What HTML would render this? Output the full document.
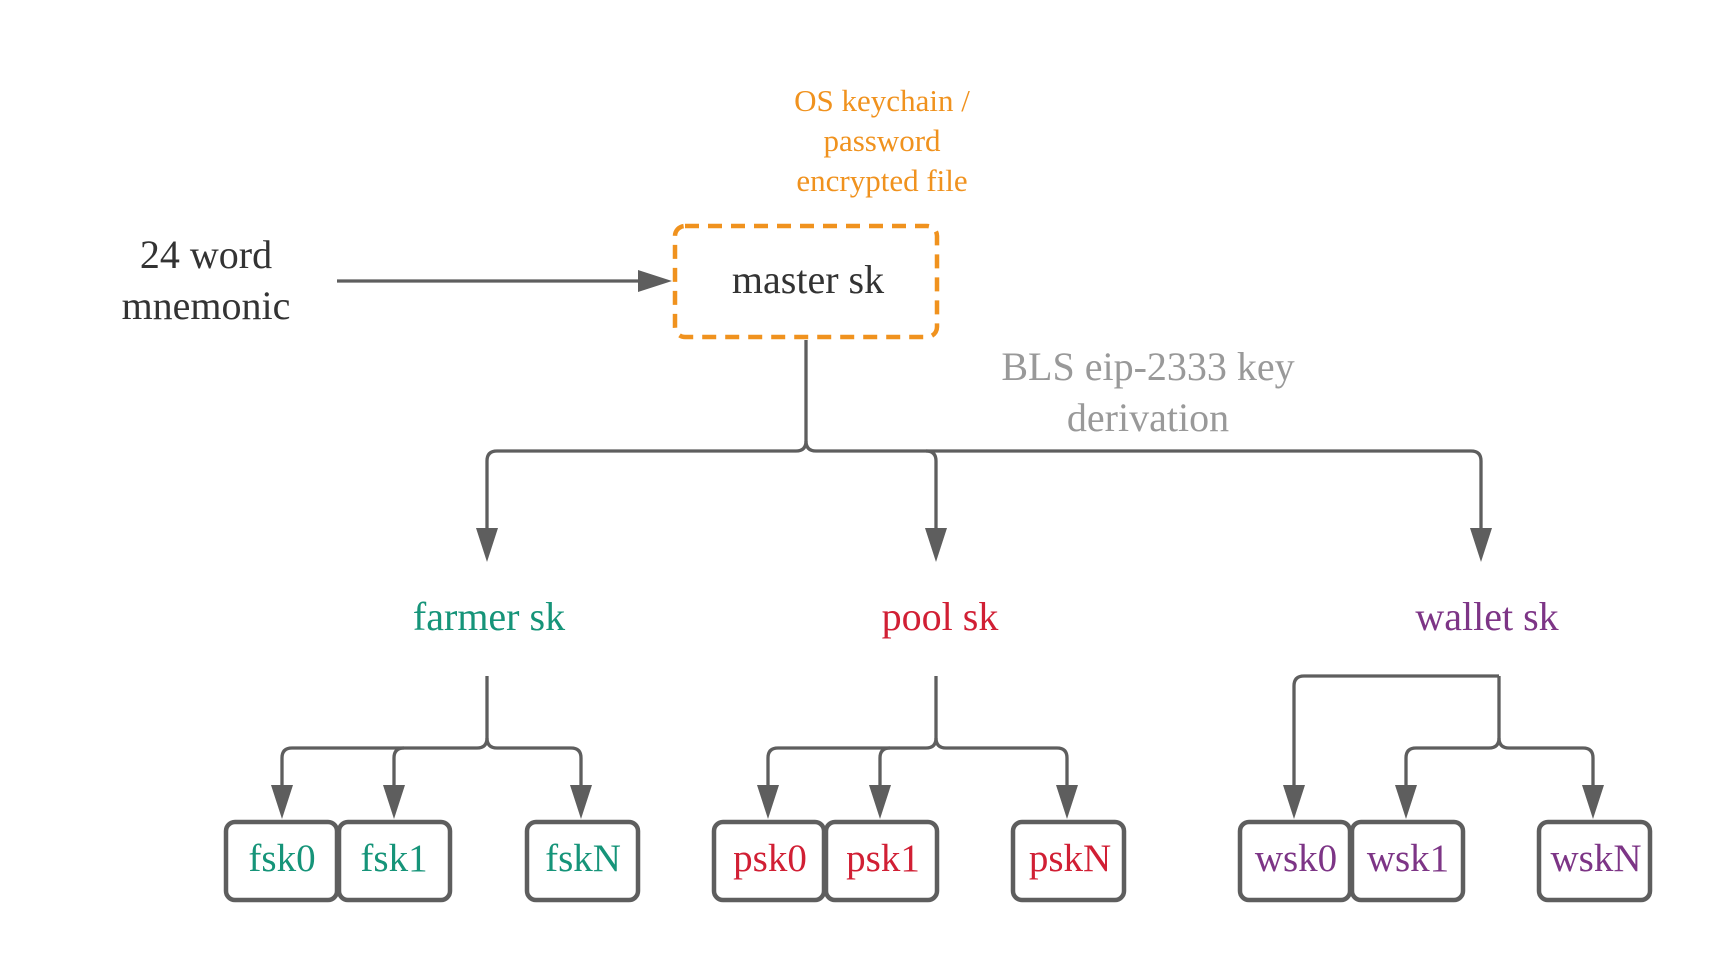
<!DOCTYPE html>
<html><head><meta charset="utf-8"><style>
html,body{margin:0;padding:0;background:#fff;width:1725px;height:975px;overflow:hidden}
svg text{font-family:"Liberation Serif",serif}
</style></head><body>
<svg width="1725" height="975" viewBox="0 0 1725 975" xmlns="http://www.w3.org/2000/svg">
<defs>
<marker id="a" markerWidth="22" markerHeight="34" refX="11" refY="33" orient="0" markerUnits="userSpaceOnUse">
<path d="M0,0 L22,0 L11,34 Z" fill="#5e5e5e"/></marker>
</defs>
<g fill="none" stroke="#5e5e5e" stroke-width="3.3" stroke-linejoin="round">
<!-- mnemonic arrow -->
<line x1="337" y1="281" x2="640" y2="281"/>
<path d="M638,270 L672,281 L638,292 Z" fill="#5e5e5e" stroke="none"/>
<!-- master tree -->
<path d="M806,340 V441 Q806,451 796,451 H497 Q487,451 487,461 V528"/>
<path d="M806,441 Q806,451 816,451 H926 Q936,451 936,461 V528"/>
<path d="M926,451 H1471 Q1481,451 1481,461 V528"/>
<!-- farmer -->
<path d="M487,676 V738 Q487,748 477,748 H292 Q282,748 282,758 V786"/>
<path d="M404,748 Q394,748 394,758 V786"/>
<path d="M487,738 Q487,748 497,748 H571 Q581,748 581,758 V786"/>
<!-- pool -->
<path d="M936,676 V738 Q936,748 926,748 H778 Q768,748 768,758 V786"/>
<path d="M890,748 Q880,748 880,758 V786"/>
<path d="M936,738 Q936,748 946,748 H1057 Q1067,748 1067,758 V786"/>
<!-- wallet -->
<path d="M1499,676 H1304 Q1294,676 1294,686 V786"/>
<path d="M1499,676 V738 Q1499,748 1489,748 H1416 Q1406,748 1406,758 V786"/>
<path d="M1499,738 Q1499,748 1509,748 H1583 Q1593,748 1593,758 V786"/>
</g>
<g fill="#5e5e5e">
<path d="M476,528 L498,528 L487,562 Z"/><path d="M925,528 L947,528 L936,562 Z"/><path d="M1470,528 L1492,528 L1481,562 Z"/>
<path d="M271,785 L293,785 L282,819 Z"/><path d="M383,785 L405,785 L394,819 Z"/><path d="M570,785 L592,785 L581,819 Z"/>
<path d="M757,785 L779,785 L768,819 Z"/><path d="M869,785 L891,785 L880,819 Z"/><path d="M1056,785 L1078,785 L1067,819 Z"/>
<path d="M1283,785 L1305,785 L1294,819 Z"/><path d="M1395,785 L1417,785 L1406,819 Z"/><path d="M1582,785 L1604,785 L1593,819 Z"/>
</g>
<rect x="675" y="226" width="262" height="111" rx="10" fill="none" stroke="#f0921e" stroke-width="4.5" stroke-dasharray="14,9"/>
<g fill="none" stroke="#5e5e5e" stroke-width="4.5">
<rect x="226" y="822" width="111" height="78" rx="9"/><rect x="339" y="822" width="111" height="78" rx="9"/><rect x="527" y="822" width="111" height="78" rx="9"/>
<rect x="714" y="822" width="110" height="78" rx="9"/><rect x="826" y="822" width="111" height="78" rx="9"/><rect x="1013" y="822" width="111" height="78" rx="9"/>
<rect x="1240" y="822" width="110" height="78" rx="9"/><rect x="1352" y="822" width="111" height="78" rx="9"/><rect x="1539" y="822" width="111" height="78" rx="9"/>
</g>
<g text-anchor="middle" font-size="40">
<text x="206" y="268" fill="#333">24 word</text>
<text x="206" y="319" fill="#333">mnemonic</text>
<text x="808" y="293" fill="#333">master sk</text>
<text x="1148" y="380" fill="#999">BLS eip-2333 key</text>
<text x="1148" y="431" fill="#999">derivation</text>
<text x="489" y="630" fill="#169479">farmer sk</text>
<text x="940" y="630" fill="#d11f34">pool sk</text>
<text x="1487" y="630" fill="#7d3586">wallet sk</text>
<g font-size="39">
<text x="282" y="871" fill="#169479">fsk0</text><text x="394" y="871" fill="#169479">fsk1</text><text x="583" y="871" fill="#169479">fskN</text>
<text x="770" y="871" fill="#d11f34">psk0</text><text x="883" y="871" fill="#d11f34">psk1</text><text x="1070" y="871" fill="#d11f34">pskN</text>
<text x="1296" y="871" fill="#7d3586">wsk0</text><text x="1408" y="871" fill="#7d3586">wsk1</text><text x="1596" y="871" fill="#7d3586">wskN</text>
</g>
<g font-size="31" fill="#f0921e">
<text x="882" y="111">OS keychain /</text>
<text x="882" y="151">password</text>
<text x="882" y="191">encrypted file</text>
</g>
</g>
</svg>
</body></html>
